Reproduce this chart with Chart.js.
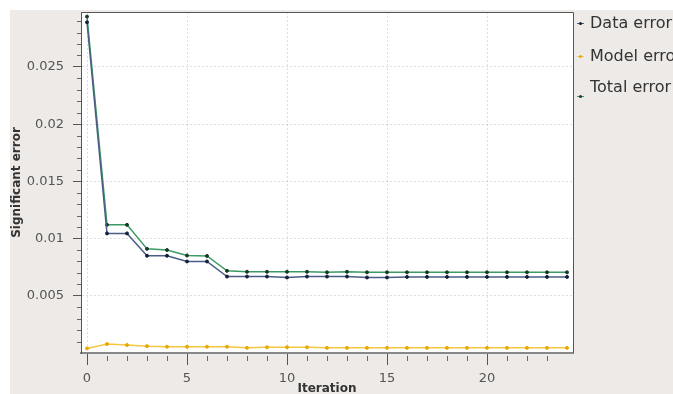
<!DOCTYPE html>
<html>
<head>
<meta charset="utf-8">
<script src="https://cdn.jsdelivr.net/npm/chart.js@4/dist/chart.umd.min.js"></script>
<style>
  html, body { margin: 0; padding: 0; overflow: hidden; background: #fff; }
  #panel { position: absolute; left: 10px; top: 10px; width: 663px; height: 384px; background: #edeae7; }
  #wrap { position: absolute; left: 0; top: 0; width: 673px; height: 394px; }
  #legend { position: absolute; left: 575px; top: 0; width: 200px; font-family: "DejaVu Sans", sans-serif; font-size: 16px; color: #333; white-space: nowrap; }
  .item { position: absolute; left: 0; height: 20px; }
  .item .txt { position: absolute; left: 15px; top: 0; line-height: 20px; }
  .item .mk { position: absolute; left: 2px; width: 7px; height: 1px; }
  .item .mk i { position: absolute; left: 2px; top: -1px; width: 3px; height: 3px; border-radius: 2px; }
</style>
</head>
<body>
<div id="panel"></div>
<div id="wrap"><canvas id="error-chart" width="673" height="394"></canvas></div>
<div id="legend"></div>
<script>
const iterations = [0, 1, 2, 3, 4, 5, 6, 7, 8, 9, 10, 11, 12, 13, 14, 15, 16, 17, 18, 19, 20, 21, 22, 23, 24];

const dataError = [0.0289, 0.01045, 0.01045, 0.0085, 0.0085, 0.0080, 0.0080, 0.00668, 0.00668, 0.00668,
  0.0066, 0.00668, 0.00668, 0.00668, 0.0066, 0.0066, 0.00665, 0.00665, 0.00665, 0.00665,
  0.00665, 0.00665, 0.00665, 0.00665, 0.00665];

const modelError = [0.0004, 0.00078, 0.0007, 0.0006, 0.00055, 0.00055, 0.00055, 0.00055, 0.00045, 0.0005,
  0.0005, 0.0005, 0.00045, 0.00045, 0.00045, 0.00045, 0.00045, 0.00045, 0.00045, 0.00045,
  0.00045, 0.00045, 0.00045, 0.00045, 0.00045];

const totalError = [0.0294, 0.0112, 0.0112, 0.0091, 0.0090, 0.00852, 0.00848, 0.00718, 0.0071, 0.0071,
  0.0071, 0.0071, 0.00705, 0.0071, 0.00705, 0.00705, 0.00705, 0.00705, 0.00705, 0.00705,
  0.00705, 0.00705, 0.00705, 0.00705, 0.00705];

const seriesNames = ["Data error", "Model error", "Total error"];

const toPoints = (vals) => vals.map((v, i) => ({ x: iterations[i], y: v }));

// white plot area, frame and the minor ticks
const framePlugin = {
  id: "frame",
  beforeDraw(chart) {
    const { ctx, chartArea: a } = chart;
    ctx.save();
    ctx.fillStyle = "#fff";
    ctx.fillRect(a.left, a.top, a.right - a.left, a.bottom - a.top);
    ctx.restore();
  },
  afterDraw(chart) {
    const { ctx, chartArea: a, scales } = chart;
    ctx.save();
    ctx.strokeStyle = "#555";
    ctx.lineWidth = 1;
    ctx.beginPath();
    ctx.moveTo(a.left, a.top + 0.5);
    ctx.lineTo(a.right + 0.5, a.top + 0.5);
    ctx.lineTo(a.right + 0.5, a.bottom);
    ctx.stroke();
    ctx.strokeStyle = "#666";
    ctx.lineWidth = 1;
    ctx.beginPath();
    // minor y ticks
    for (let k = 1; k < 30; k++) {
      if (k % 5 === 0) continue;
      const y = Math.round(scales.y.getPixelForValue(k / 1000)) + 0.5;
      if (y < a.top) continue;
      ctx.moveTo(a.left - 4, y);
      ctx.lineTo(a.left, y);
    }
    // minor x ticks
    for (let k = 1; k < 24; k++) {
      if (k % 5 === 0) continue;
      const x = Math.round(scales.x.getPixelForValue(k)) + 0.5;
      ctx.moveTo(x, a.bottom + 3);
      ctx.lineTo(x, a.bottom + 8);
    }
    ctx.stroke();
    ctx.restore();
  }
};

const chart = new Chart(document.querySelector("#error-chart"), {
  type: "line",
  data: {
    datasets: [
      {
        label: seriesNames[0],
        data: toPoints(dataError),
        borderColor: "#4b5d86",
        backgroundColor: "#14203a",
        pointBorderColor: "#14203a",
        borderWidth: 1.5,
        pointBorderWidth: 1,
        radius: 1.5,
      },
      {
        label: seriesNames[1],
        data: toPoints(modelError),
        borderColor: "#f5c842",
        backgroundColor: "#e8a800",
        pointBorderColor: "#e8a800",
        borderWidth: 1.5,
        pointBorderWidth: 1,
        radius: 1.5,
      },
      {
        label: seriesNames[2],
        data: toPoints(totalError),
        borderColor: "#3c9a64",
        backgroundColor: "#173a26",
        pointBorderColor: "#173a26",
        borderWidth: 1.5,
        pointBorderWidth: 1,
        radius: 1.5,
      },
    ],
  },
  options: {
    responsive: false,
    animation: false,
    layout: { padding: { left: 0, top: 12, right: 100, bottom: 0 } },
    plugins: {
      legend: { display: false },
      tooltip: { enabled: false },
    },
    scales: {
      x: {
        type: "linear",
        min: -0.3,
        max: 24.3,
        afterFit: (s) => { s.height = 41; s.paddingLeft = 0; s.paddingRight = 0; },
        ticks: {
          stepSize: 5,
          includeBounds: false,
          padding: 6,
          color: "#555",
          font: { family: "DejaVu Sans", size: 13 },
        },
        grid: {
          color: "rgba(0,0,0,0.13)",
          tickColor: "#555",
          tickLength: 12,
        },
        border: { color: "#888", width: 2, dash: [2, 2] },
        title: {
          display: true,
          text: "Iteration",
          color: "#333",
          padding: { top: 0, bottom: -1 },
          font: { family: "DejaVu Sans", size: 12, weight: "bold", lineHeight: 1 },
        },
      },
      y: {
        min: 0,
        max: 0.0298,
        afterFit: (s) => { s.width = 81; s.paddingTop = 0; s.paddingBottom = 0; },
        ticks: {
          stepSize: 0.005,
          includeBounds: false,
          padding: 9,
          color: "#555",
          font: { family: "DejaVu Sans", size: 13 },
          callback: (v) => (v === 0 ? "" : String(+v.toFixed(3))),
        },
        grid: {
          color: (c) => (c.tick && c.tick.value === 0 ? "rgba(0,0,0,0)" : "rgba(0,0,0,0.13)"),
          tickColor: (c) => (c.tick && c.tick.value === 0 ? "rgba(0,0,0,0)" : "#555"),
          tickLength: 8,
        },
        border: { color: "#555", width: 1, dash: [2, 2] },
        title: {
          display: true,
          text: "Significant error",
          color: "#333",
          padding: { top: 10, bottom: 0 },
          font: { family: "DejaVu Sans", size: 12, weight: "bold" },
        },
      },
    },
  },
  plugins: [framePlugin],
});

// legend on the right, clipped by the window like the original
const legendTops = [13, 46, 77];
const legendBox = document.querySelector("#legend");
chart.data.datasets.forEach((ds, i) => {
  const item = document.createElement("div");
  item.className = "item";
  item.style.top = legendTops[i] + "px";
  const mkTop = i === 2 ? 19 : 10;
  item.innerHTML =
    '<span class="mk" style="top:' + mkTop + 'px;background:' + ds.borderColor + '"><i style="background:' +
    ds.backgroundColor + '"></i></span><span class="txt">' + ds.label + "</span>";
  legendBox.appendChild(item);
});
</script>
</body>
</html>
